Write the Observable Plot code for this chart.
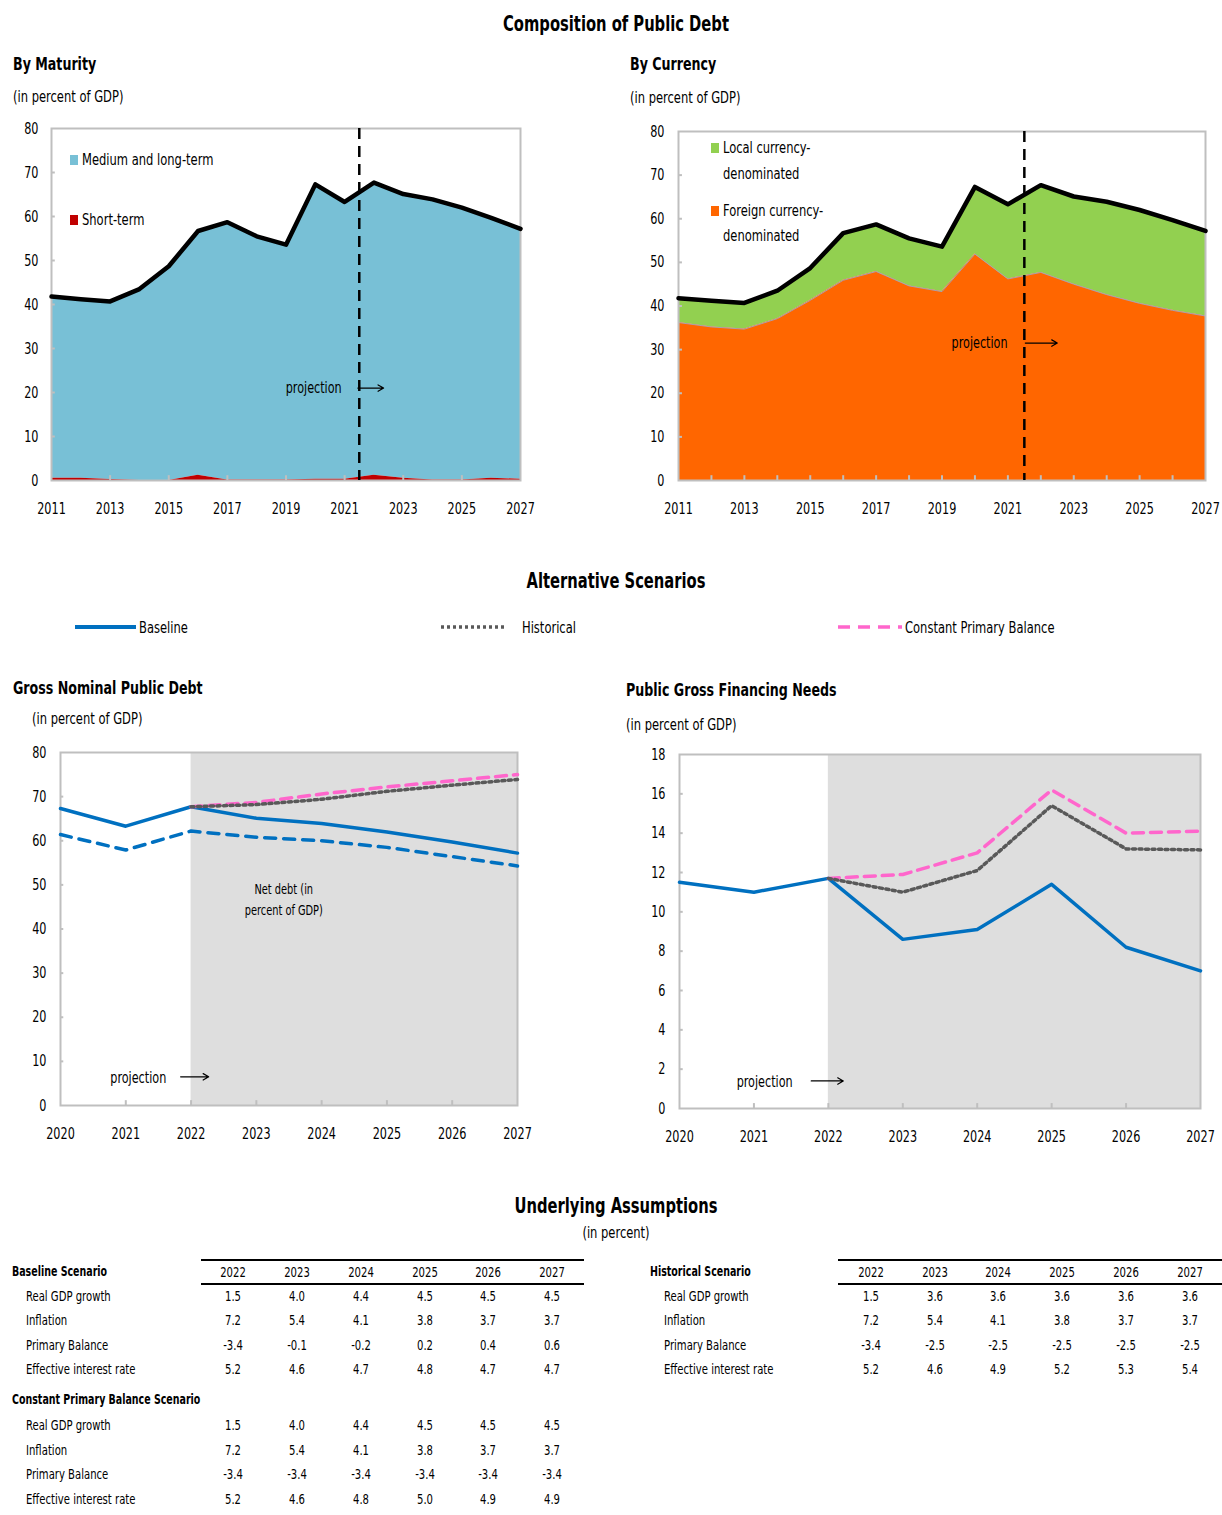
<!DOCTYPE html>
<html><head><meta charset="utf-8">
<script src="https://cdn.jsdelivr.net/npm/d3@7"></script>
<script src="https://cdn.jsdelivr.net/npm/@observablehq/plot@0.6"></script>
<style>
body{margin:0;background:#fff;}
#root{position:relative;width:1222px;height:1515px;overflow:hidden;font-family:"DejaVu Sans Condensed","DejaVu Sans",sans-serif;color:#000}
.t{position:absolute;white-space:nowrap;line-height:1}
.chart{position:absolute}
</style></head>
<body><div id="root"></div>
<script>
// ---------- DATA ----------
const histYears = [2011,2012,2013,2014,2015,2016,2017,2018,2019,2020,2021,2022,2023,2024,2025,2026,2027];
const totalDebt = [41.8,41.2,40.7,43.5,48.7,56.7,58.7,55.5,53.6,67.3,63.3,67.7,65.1,63.9,62.0,59.7,57.2];
const shortTerm = [0.5,0.5,0.2,0.0,0.0,1.2,0.1,0.1,0.1,0.3,0.3,1.2,0.5,0.1,0.1,0.5,0.3];
const foreignCurrency = [36.2,35.2,34.7,37.1,41.3,45.9,47.9,44.6,43.3,51.9,46.2,47.7,45.0,42.6,40.6,39.0,37.7];
const maturityTicks = [2011,2013,2015,2017,2019,2021,2023,2025,2027];
const debtTicks = [0,10,20,30,40,50,60,70,80];

const scenYears = [2020,2021,2022,2023,2024,2025,2026,2027];
const baselineDebt = [67.3,63.3,67.7,65.1,63.9,62.0,59.7,57.2];
const netDebt = [61.4,57.9,62.2,60.8,60.0,58.5,56.4,54.3];
const projYears = [2022,2023,2024,2025,2026,2027];
const historicalDebt = [67.7,68.2,69.4,71.2,72.6,73.9];
const constantPBDebt = [67.7,68.7,70.6,72.2,73.6,75.0];
const baselineGFN = [11.5,11.0,11.7,8.6,9.1,11.4,8.2,7.0];
const historicalGFN = [11.7,11.0,12.1,15.4,13.2,13.15];
const constantPBGFN = [11.7,11.9,13.0,16.2,14.0,14.1];
const gfnTicks = [0,2,4,6,8,10,12,14,16,18];

const tableYears = [2022,2023,2024,2025,2026,2027];
const rowLabels = ["Real GDP growth","Inflation","Primary Balance","Effective interest rate"];
const baseGrowth = [1.5,4.0,4.4,4.5,4.5,4.5];
const baseInflation = [7.2,5.4,4.1,3.8,3.7,3.7];
const basePB = [-3.4,-0.1,-0.2,0.2,0.4,0.6];
const baseRate = [5.2,4.6,4.7,4.8,4.7,4.7];
const cpbGrowth = [1.5,4.0,4.4,4.5,4.5,4.5];
const cpbInflation = [7.2,5.4,4.1,3.8,3.7,3.7];
const cpbPB = [-3.4,-3.4,-3.4,-3.4,-3.4,-3.4];
const cpbRate = [5.2,4.6,4.8,5.0,4.9,4.9];
const histGrowth = [1.5,3.6,3.6,3.6,3.6,3.6];
const histInflation = [7.2,5.4,4.1,3.8,3.7,3.7];
const histPB = [-3.4,-2.5,-2.5,-2.5,-2.5,-2.5];
const histRate = [5.2,4.6,4.9,5.2,5.3,5.4];

// ---------- STYLE ----------
const FONT = '"DejaVu Sans Condensed","DejaVu Sans",sans-serif';
const C = {mlt:"#78c0d6", st:"#c00000", local:"#92d050", foreign:"#ff6600", blue:"#0070c0", pink:"#ff66cc", hist:"#595959", shade:"#dedede", frame:"#bfbfbf"};
const root = document.getElementById("root");
const SQUEEZE = 0.8;

function txt(s, x, y, o = {}) {
  const d = document.createElement("div");
  d.className = "t";
  d.textContent = s;
  const a = o.anchor || "start";
  const tx = a === "middle" ? "-50%" : a === "end" ? "-100%" : "0";
  const origin = a === "middle" ? "center" : a === "end" ? "right" : "left";
  const k = o.k || (o.bold ? 0.78 : SQUEEZE);
  d.style.cssText = `left:${x}px;top:${y}px;font-size:${o.size||15}px;font-weight:${o.bold?700:400};transform-origin:${origin} center;transform:translate(${tx},-50%) scaleX(${k});`;
  root.appendChild(d);
  return d;
}
// horizontally condense SVG text (the reference uses a narrow face)
function condense(svg, k) {
  svg.querySelectorAll("text").forEach(t => {
    const tr = t.getAttribute("transform");
    if (tr) t.setAttribute("transform", tr + ` scale(${k},1)`);
    else {
      const x = +(t.getAttribute("x") || 0);
      t.setAttribute("transform", `translate(${x},0) scale(${k},1) translate(${-x},0)`);
    }
  });
}
function place(svg, left, top) {
  const w = document.createElement("div");
  w.className = "chart";
  w.style.left = left + "px"; w.style.top = top + "px";
  w.appendChild(svg);
  root.appendChild(w);
  condense(svg, 0.78);
}
const baseStyle = {fontFamily: FONT, fontSize: "16px", background: "transparent", overflow: "visible", color: "#000"};

// ---------- TITLES ----------
txt("Composition of Public Debt", 616, 24, {size:21, bold:true, anchor:"middle"});
txt("By Maturity", 13, 64, {size:18, bold:true});
txt("(in percent of GDP)", 13, 97, {size:16});
txt("By Currency", 630, 64, {size:18, bold:true});
txt("(in percent of GDP)", 630, 98, {size:16});

// ---------- TOP LEFT: by maturity ----------
const maturityRows = histYears.map((year, i) => ({year, short: shortTerm[i], total: totalDebt[i]}));
const projectionStart = 2021.5;
place(Plot.plot({
  width: 545, height: 420, marginLeft: 51, marginRight: 25, marginTop: 18, marginBottom: 50,
  style: baseStyle,
  x: {domain: [2011, 2027], ticks: maturityTicks, tickFormat: d => String(d), tickSize: 0, tickPadding: 22, label: null},
  y: {domain: [0, 80], ticks: debtTicks, tickSize: 0, tickPadding: 13, label: null},
  marks: [
    Plot.areaY(maturityRows, {x: "year", y1: "short", y2: "total", fill: C.mlt}),
    Plot.areaY(maturityRows, {x: "year", y1: 0, y2: "short", fill: C.st}),
    Plot.frame({stroke: C.frame, strokeWidth: 2}),
    Plot.ruleX(maturityTicks.slice(1, -1), {x: d => d, y1: 0, y2: 1.1, stroke: C.frame, strokeWidth: 2}),
    Plot.ruleY(debtTicks.slice(1, -1), {y: d => d, x1: 2011, x2: 2011.13, stroke: C.frame, strokeWidth: 2}),
    Plot.lineY(maturityRows, {x: "year", y: "total", stroke: "#000", strokeWidth: 4.5}),
    Plot.ruleX([projectionStart], {x: d => d, stroke: "#000", strokeWidth: 2.5, strokeDasharray: "11,7"}),
    Plot.text([{x: 2020.9, y: 21, t: "projection"}], {x: "x", y: "y", text: "t", textAnchor: "end", fontSize: 16}),
    Plot.arrow([{x1: 2021.45, x2: 2022.33, y: 21}], {x1: "x1", x2: "x2", y1: "y", y2: "y", stroke: "#000", strokeWidth: 1.2, headLength: 8})
  ]
}), 0, 110);
function swatch(x, y, color) {
  const d = document.createElement("div");
  d.style.cssText = `position:absolute;left:${x}px;top:${y}px;width:8px;height:10px;background:${color};`;
  root.appendChild(d);
}
swatch(70, 155, C.mlt); txt("Medium and long-term", 82, 160, {size:16});
swatch(70, 215, C.st); txt("Short-term", 82, 220, {size:16});

// ---------- TOP RIGHT: by currency ----------
const currencyRows = histYears.map((year, i) => ({year, foreign: foreignCurrency[i], total: totalDebt[i]}));
place(Plot.plot({
  width: 602, height: 420, marginLeft: 58, marginRight: 17, marginTop: 21, marginBottom: 50,
  style: baseStyle,
  x: {domain: [2011, 2027], ticks: maturityTicks, tickFormat: d => String(d), tickSize: 0, tickPadding: 22, label: null},
  y: {domain: [0, 80], ticks: debtTicks, tickSize: 0, tickPadding: 14, label: null},
  marks: [
    Plot.areaY(currencyRows, {x: "year", y1: "foreign", y2: "total", fill: C.local}),
    Plot.areaY(currencyRows, {x: "year", y1: 0, y2: "foreign", fill: C.foreign}),
    Plot.lineY(currencyRows, {x: "year", y: "foreign", stroke: "#a9a0b0", strokeWidth: 1}),
    Plot.frame({stroke: C.frame, strokeWidth: 2}),
    Plot.ruleX(histYears.slice(1, -1), {x: d => d, y1: 0, y2: 1.1, stroke: C.frame, strokeWidth: 2}),
    Plot.ruleY(debtTicks.slice(1, -1), {y: d => d, x1: 2011, x2: 2011.12, stroke: C.frame, strokeWidth: 2}),
    Plot.lineY(currencyRows, {x: "year", y: "total", stroke: "#000", strokeWidth: 4.5}),
    Plot.ruleX([projectionStart], {x: d => d, stroke: "#000", strokeWidth: 2.5, strokeDasharray: "11,7"}),
    Plot.text([{x: 2020.99, y: 31.5, t: "projection"}], {x: "x", y: "y", text: "t", textAnchor: "end", fontSize: 16}),
    Plot.arrow([{x1: 2021.53, x2: 2022.5, y: 31.5}], {x1: "x1", x2: "x2", y1: "y", y2: "y", stroke: "#000", strokeWidth: 1.2, headLength: 8})
  ]
}), 620, 110);
swatch(711, 143, C.local); txt("Local currency-", 723, 148, {size:16}); txt("denominated", 723, 174, {size:16});
swatch(711, 206, C.foreign); txt("Foreign currency-", 723, 211, {size:16}); txt("denominated", 723, 236, {size:16});

// ---------- ALTERNATIVE SCENARIOS ----------
txt("Alternative Scenarios", 616, 581, {size:21, bold:true, anchor:"middle"});
function legendLine(x1, x2, y, stroke, dash, width) {
  const ns = "http://www.w3.org/2000/svg";
  const s = document.createElementNS(ns, "svg");
  s.setAttribute("width", x2 - x1 + 6); s.setAttribute("height", 10);
  s.style.cssText = `position:absolute;left:${x1 - 3}px;top:${y - 5}px;`;
  const l = document.createElementNS(ns, "line");
  l.setAttribute("x1", 3); l.setAttribute("x2", x2 - x1 + 3); l.setAttribute("y1", 5); l.setAttribute("y2", 5);
  l.setAttribute("stroke", stroke); l.setAttribute("stroke-width", width);
  if (dash) l.setAttribute("stroke-dasharray", dash);
  s.appendChild(l); root.appendChild(s);
}
legendLine(75, 136, 627, C.blue, null, 4);
txt("Baseline", 139, 628, {size:16});
legendLine(441, 505, 627, C.hist, "3,3", 3.5);
txt("Historical", 522, 628, {size:16});
legendLine(838, 902, 627, C.pink, "12,8", 3.5);
txt("Constant Primary Balance", 905, 628, {size:16});

txt("Gross Nominal Public Debt", 13, 688, {size:18, bold:true});
txt("(in percent of GDP)", 32, 719, {size:16});
txt("Public Gross Financing Needs", 626, 690, {size:18, bold:true});
txt("(in percent of GDP)", 626, 725, {size:16});

// ---------- BOTTOM LEFT: gross nominal public debt ----------
const debtRows = scenYears.map((year, i) => ({year, base: baselineDebt[i], net: netDebt[i]}));
const debtProj = projYears.map((year, i) => ({year, hist: historicalDebt[i], cpb: constantPBDebt[i]}));
const firstProj = projYears[0], lastProj = projYears[projYears.length - 1];
place(Plot.plot({
  width: 540, height: 420, marginLeft: 60, marginRight: 23, marginTop: 12, marginBottom: 55,
  style: baseStyle,
  x: {domain: [2020, 2027], ticks: scenYears, tickFormat: d => String(d), tickSize: 0, tickPadding: 22, label: null},
  y: {domain: [0, 80], ticks: debtTicks, tickSize: 0, tickPadding: 14, label: null},
  marks: [
    Plot.rect([{a: firstProj, b: lastProj}], {x1: "a", x2: "b", y1: 0, y2: 80, fill: C.shade}),
    Plot.frame({stroke: C.frame, strokeWidth: 2}),
    Plot.ruleX(scenYears.slice(1, -1), {x: d => d, y1: 0, y2: 1.1, stroke: C.frame, strokeWidth: 2}),
    Plot.ruleY(debtTicks.slice(1, -1), {y: d => d, x1: 2020, x2: 2020.05, stroke: C.frame, strokeWidth: 2}),
    Plot.lineY(debtRows, {x: "year", y: "net", stroke: C.blue, strokeWidth: 3.5, strokeDasharray: "11,8"}),
    Plot.lineY(debtRows, {x: "year", y: "base", stroke: C.blue, strokeWidth: 3.5}),
    Plot.lineY(debtProj, {x: "year", y: "cpb", stroke: C.pink, strokeWidth: 3.5, strokeDasharray: "11,7"}),
    Plot.lineY(debtProj, {x: "year", y: "hist", stroke: C.hist, strokeWidth: 3.5, strokeDasharray: "3,3.5"}),
    Plot.text([{x: 2023.42, y: 47, t: "Net debt (in\npercent of GDP)"}], {x: "x", y: "y", text: "t", fontSize: 14, lineHeight: 1.45}),
    Plot.text([{x: 2021.62, y: 6.3, t: "projection"}], {x: "x", y: "y", text: "t", textAnchor: "end", fontSize: 16}),
    Plot.arrow([{x1: 2021.84, x2: 2022.27, y: 6.5}], {x1: "x1", x2: "x2", y1: "y", y2: "y", stroke: "#000", strokeWidth: 1.2, headLength: 8})
  ]
}), 0, 740);

// ---------- BOTTOM RIGHT: gross financing needs ----------
const gfnRows = scenYears.map((year, i) => ({year, base: baselineGFN[i]}));
const gfnProj = projYears.map((year, i) => ({year, hist: historicalGFN[i], cpb: constantPBGFN[i]}));
place(Plot.plot({
  width: 602, height: 420, marginLeft: 59, marginRight: 22, marginTop: 14, marginBottom: 52,
  style: baseStyle,
  x: {domain: [2020, 2027], ticks: scenYears, tickFormat: d => String(d), tickSize: 0, tickPadding: 22, label: null},
  y: {domain: [0, 18], ticks: gfnTicks, tickSize: 0, tickPadding: 14, label: null},
  marks: [
    Plot.rect([{a: firstProj, b: lastProj}], {x1: "a", x2: "b", y1: 0, y2: 18, fill: C.shade}),
    Plot.frame({stroke: C.frame, strokeWidth: 2}),
    Plot.ruleX(scenYears.slice(1, -1), {x: d => d, y1: 0, y2: 0.25, stroke: C.frame, strokeWidth: 2}),
    Plot.ruleY(gfnTicks.slice(1, -1), {y: d => d, x1: 2020, x2: 2020.05, stroke: C.frame, strokeWidth: 2}),
    Plot.lineY(gfnRows, {x: "year", y: "base", stroke: C.blue, strokeWidth: 3.5}),
    Plot.lineY(gfnProj, {x: "year", y: "cpb", stroke: C.pink, strokeWidth: 3.5, strokeDasharray: "11,7"}),
    Plot.lineY(gfnProj, {x: "year", y: "hist", stroke: C.hist, strokeWidth: 3.5, strokeDasharray: "3,3.5"}),
    Plot.text([{x: 2021.52, y: 1.35, t: "projection"}], {x: "x", y: "y", text: "t", textAnchor: "end", fontSize: 16}),
    Plot.arrow([{x1: 2021.77, x2: 2022.2, y: 1.4}], {x1: "x1", x2: "x2", y1: "y", y2: "y", stroke: "#000", strokeWidth: 1.2, headLength: 8})
  ]
}), 620, 740);

// ---------- TABLES ----------
txt("Underlying Assumptions", 616, 1206, {size:21, bold:true, anchor:"middle"});
txt("(in percent)", 616, 1233, {size:16, anchor:"middle"});

function hrule(x1, x2, y, h) {
  const d = document.createElement("div");
  d.style.cssText = `position:absolute;left:${x1}px;top:${y}px;width:${x2 - x1}px;height:${h}px;background:#000;`;
  root.appendChild(d);
}
const fmt = v => v.toFixed(1);
const TS = 14;
function tableRows(rows, labelX, colXs, ys) {
  rows.forEach((vals, i) => {
    const y = ys[i];
    txt(rowLabels[i], labelX, y, {size: TS});
    vals.forEach((v, j) => txt(fmt(v), colXs[j], y, {size: TS, anchor: "middle"}));
  });
}
function tableHead(title, titleX, colXs, ruleX1, ruleX2) {
  hrule(ruleX1, ruleX2, 1259, 1.5);
  hrule(ruleX1, ruleX2, 1283, 2);
  txt(title, titleX, 1272, {size: 13.5, bold: true});
  tableYears.forEach((yr, j) => txt(String(yr), colXs[j], 1272, {size: TS, anchor: "middle"}));
}
const leftCols = [233, 297, 361, 425, 488, 552];
const rightCols = [871, 935, 998, 1062, 1126, 1190];
const rowYs = [1296, 1320, 1345, 1369];
tableHead("Baseline Scenario", 12, leftCols, 201, 584);
tableRows([baseGrowth, baseInflation, basePB, baseRate], 26, leftCols, rowYs);
txt("Constant Primary Balance Scenario", 12, 1400, {size: 13.5, bold: true});
tableRows([cpbGrowth, cpbInflation, cpbPB, cpbRate], 26, leftCols, [1425, 1450, 1474, 1499]);
tableHead("Historical Scenario", 650, rightCols, 838, 1222);
tableRows([histGrowth, histInflation, histPB, histRate], 664, rightCols, rowYs);
</script>
</body></html>
